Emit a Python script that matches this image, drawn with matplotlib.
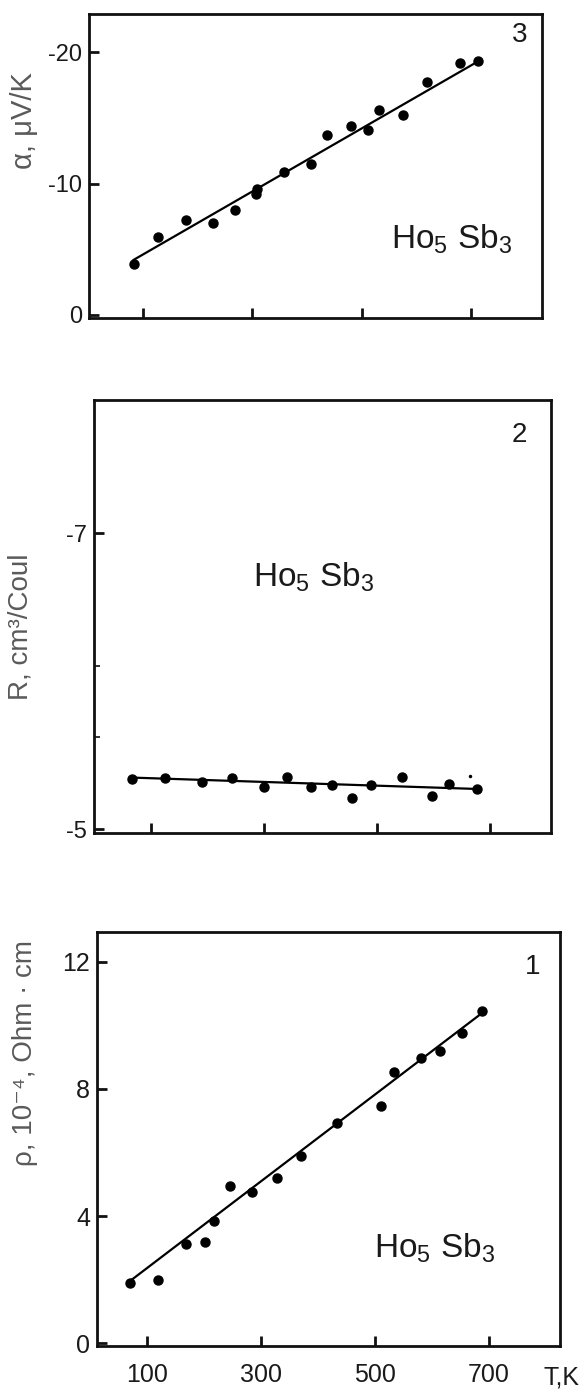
import numpy as np
import matplotlib
matplotlib.use('Agg')
import matplotlib.pyplot as plt

plt.rcParams['font.family'] = ['Liberation Sans', 'DejaVu Sans']
plt.rcParams['mathtext.fontset'] = 'custom'
plt.rcParams['mathtext.rm'] = 'Liberation Sans'
plt.rcParams['mathtext.it'] = 'Liberation Sans'

# datos
xticks = [100, 300, 500, 700]
xtick_labels = ['100', '300', '500', '700']

# panel 3: termopotencia
T_alpha = [83, 127, 178, 228, 268, 306, 309, 358, 407, 437, 481, 511, 531, 575, 619, 680, 713]
alpha = [-3.9, -5.9, -7.2, -7.0, -8.0, -9.2, -9.6, -10.9, -11.5, -13.7, -14.4, -14.1,
         -15.6, -15.2, -17.7, -19.2, -19.3]
fit_T_alpha = [83, 717]
fit_alpha = [-4.2, -19.4]
alpha_ticks = [0, -10, -20]

# panel 2: coeficiente Hall
T_R = [67, 124, 190, 244, 301, 341, 384, 421, 456, 489, 545, 598, 628, 677]
R = [-5.337, -5.342, -5.319, -5.342, -5.285, -5.355, -5.281, -5.297, -5.213, -5.297,
     -5.355, -5.220, -5.303, -5.270]
fit_T_R = [64, 684]
fit_R = [-5.348, -5.27]
R_ticks = [-5, -7]
R_minor = [-6.1, -5.62]

# panel 1: resistividad
T_rho = [70, 120, 169, 202, 217, 246, 285, 329, 370, 433, 510, 534, 580, 614, 652, 688]
rho = [1.89, 2.0, 3.13, 3.19, 3.84, 4.95, 4.77, 5.21, 5.89, 6.92, 7.47, 8.53, 8.98,
       9.19, 9.76, 10.47]
fit_T_rho = [70, 690]
fit_rho = [1.95, 10.42]
rho_ticks = [0, 4, 8, 12]

compuesto = r'Ho$_5$ Sb$_3$'
gris = '#5a5a5a'
oscuro = '#1a1a1a'

fig = plt.figure(figsize=(5.86, 13.93), dpi=100)


def arma_panel(rect, xlim, ylim, yticks, fs):
    ax = fig.add_axes(rect)
    ax.set_xlim(xlim)
    ax.set_ylim(ylim)
    for s in ax.spines.values():
        s.set_linewidth(2.0)
        s.set_color('#111111')
    ax.set_xticks(xticks)
    ax.set_yticks(yticks)
    ax.set_yticklabels(['%g' % v for v in yticks])
    ax.tick_params(direction='in', length=7, width=2.0, labelsize=fs,
                   labelcolor=oscuro, color='#111111', pad=5)
    ax.tick_params(axis='x', labelbottom=False)
    return ax


# panel 3
ax3 = arma_panel([0.1519, 0.7717, 0.7730, 0.2182], (1.2, 829.8), (0.23, -22.9), alpha_ticks, 17)
ax3.plot(fit_T_alpha, fit_alpha, color='black', lw=1.6)
ax3.plot(T_alpha, alpha, 'o', color='black', ms=6.5)
ax3.set_ylabel(r'α, μV/K', fontsize=21, color=gris)
ax3.yaxis.set_label_coords(-0.113, 0.65)
ax3.text(0.80, 0.26, compuesto, transform=ax3.transAxes, fontsize=24, color=oscuro,
         ha='center', va='center')
ax3.text(0.95, 0.93, '3', transform=ax3.transAxes, fontsize=20, color=oscuro,
         ha='center', va='center')

# panel 2
ax2 = arma_panel([0.1604, 0.4020, 0.7799, 0.3108], (-1.2, 809), (-4.973, -7.9), R_ticks, 17)
ax2.set_yticks(R_minor, minor=True)
ax2.tick_params(which='minor', direction='in', length=4, width=1.4, color='#333333')
ax2.plot(fit_T_R, fit_R, color='black', lw=1.6)
ax2.plot(T_R, R, 'o', color='black', ms=6.5)
ax2.plot([666], [-5.36], 'o', color='black', ms=1.5)
ax2.set_ylabel('R, cm³/Coul', fontsize=20, color=gris)
ax2.yaxis.set_label_coords(-0.133, 0.476)
ax2.text(0.48, 0.59, compuesto, transform=ax2.transAxes, fontsize=24, color=oscuro,
         ha='center', va='center')
ax2.text(0.93, 0.92, '2', transform=ax2.transAxes, fontsize=20, color=oscuro,
         ha='center', va='center')

# panel 1
ax1 = arma_panel([0.1655, 0.0337, 0.7901, 0.2972], (12.3, 824.6), (-0.094, 12.94), rho_ticks, 18)
ax1.tick_params(axis='x', labelbottom=True, pad=12)
ax1.set_xticklabels(xtick_labels)
ax1.plot(fit_T_rho, fit_rho, color='black', lw=1.6)
ax1.plot(T_rho, rho, 'o', color='black', ms=6.5)
ax1.set_ylabel('ρ, 10⁻⁴, Ohm · cm', fontsize=20, color=gris)
ax1.yaxis.set_label_coords(-0.127, 0.708)
ax1.text(0.73, 0.237, compuesto, transform=ax1.transAxes, fontsize=24, color=oscuro,
         ha='center', va='center')
ax1.text(0.94, 0.915, '1', transform=ax1.transAxes, fontsize=20, color=oscuro,
         ha='center', va='center')
ax1.text(1.004, -0.075, 'T,K', transform=ax1.transAxes, fontsize=18, color=oscuro,
         ha='center', va='center')

fig.savefig('out.png', dpi=100)
